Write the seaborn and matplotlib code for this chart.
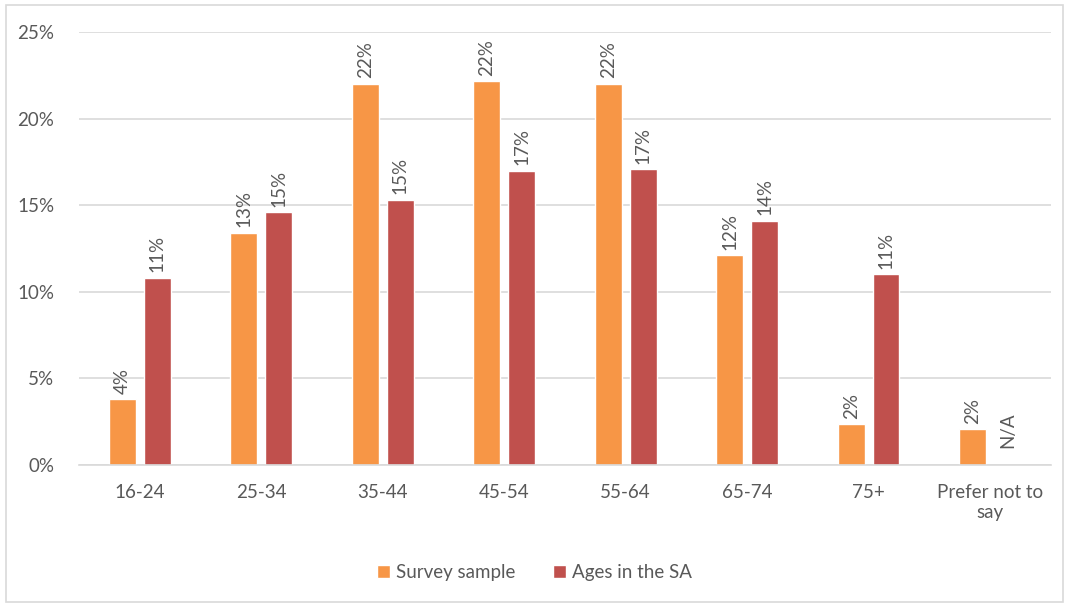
import numpy as np
import pandas as pd
import matplotlib
matplotlib.use('Agg')
import matplotlib.pyplot as plt
import seaborn as sns
from matplotlib.patches import Rectangle

# ─── Data ─────────────────────────────────────────────────────────────────────
age_groups = ["16-24", "25-34", "35-44", "45-54", "55-64", "65-74", "75+", "Prefer not to\nsay"]
survey_sample = [3.8, 13.4, 22.0, 22.15, 22.0, 12.1, 2.36, 2.07]
ages_in_sa = [10.8, 14.6, 15.3, 17.0, 17.07, 14.1, 11.0, np.nan]
series_names = ["Survey sample", "Ages in the SA"]
colors = ["#F79646", "#C0504D"]

df = pd.DataFrame({
    "age": age_groups * 2,
    "value": [v / 100 for v in survey_sample + ages_in_sa],
    "series": [series_names[0]] * len(age_groups) + [series_names[1]] * len(age_groups),
})

# ─── Style ────────────────────────────────────────────────────────────────────
sns.set_style("white")
plt.rcParams['font.family'] = ['Lato', 'DejaVu Sans']
text_col = "#595959"
grid_col = "#D9D9D9"
fs = 13.5

fig = plt.figure(figsize=(10.69, 6.06), dpi=100)
ax = fig.add_axes([0.074, 0.2327, 0.909, 0.7145])

sns.barplot(
    data=df, x="age", y="value", hue="series", order=age_groups,
    palette=colors, width=0.576, gap=0.236,
    saturation=1, ax=ax, legend=True, errorbar=None,
)

ax.set_ylim(0, 0.25)
ax.set_xlim(-0.5, len(age_groups) - 0.5)
ax.set_yticks(np.arange(0, 0.26, 0.05))
ax.set_yticklabels([f"{int(round(t * 100))}%" for t in np.arange(0, 0.26, 0.05)])
ax.yaxis.grid(True, color=grid_col, linewidth=1.2)
ax.set_axisbelow(True)
for s in ["top", "right", "left"]:
    ax.spines[s].set_visible(False)
ax.spines["bottom"].set_color(grid_col)
ax.spines["bottom"].set_linewidth(1.2)
ax.tick_params(axis="both", length=0, labelsize=fs, colors=text_col)
ax.tick_params(axis="x", pad=14)
ax.tick_params(axis="y", pad=18)
ax.set_xlabel("")
ax.set_ylabel("")

# value labels
red_offset = None
for cont, vals in zip(ax.containers, [survey_sample, ages_in_sa]):
    for bar in cont:
        x = bar.get_x() + bar.get_width() / 2
        h = bar.get_height()
        if np.isnan(h):
            continue
        ax.annotate(f"{round(h * 100)}%", (x, h), xytext=(0, 4), textcoords="offset points",
                    rotation=90, ha="center", va="bottom",
                    fontsize=fs, color=text_col)

# N/A marker where the SA series has no value
first_red = ax.containers[1][0]
red_offset = first_red.get_x() + first_red.get_width() / 2
for i, v in enumerate(ages_in_sa):
    if np.isnan(v):
        ax.annotate("N/A", (i + red_offset, 0), xytext=(0, 12), textcoords="offset points",
                    rotation=90, ha="center", va="bottom",
                    fontsize=fs, color=text_col)

# legend
handles, labels = ax.get_legend_handles_labels()
ax.legend(handles, labels, loc="center", bbox_to_anchor=(0.5, 0.055),
          bbox_transform=fig.transFigure, ncol=2, frameon=False,
          fontsize=fs, labelcolor=text_col, handlelength=0.7, handleheight=0.7,
          handletextpad=0.3, columnspacing=2.0)

# outer chart border
fig.patches.append(Rectangle((0.006, 0.006), 0.988, 0.986, transform=fig.transFigure,
                             fill=False, edgecolor=grid_col, linewidth=1.2))

plt.savefig("out.png", dpi=100)
plt.close()
